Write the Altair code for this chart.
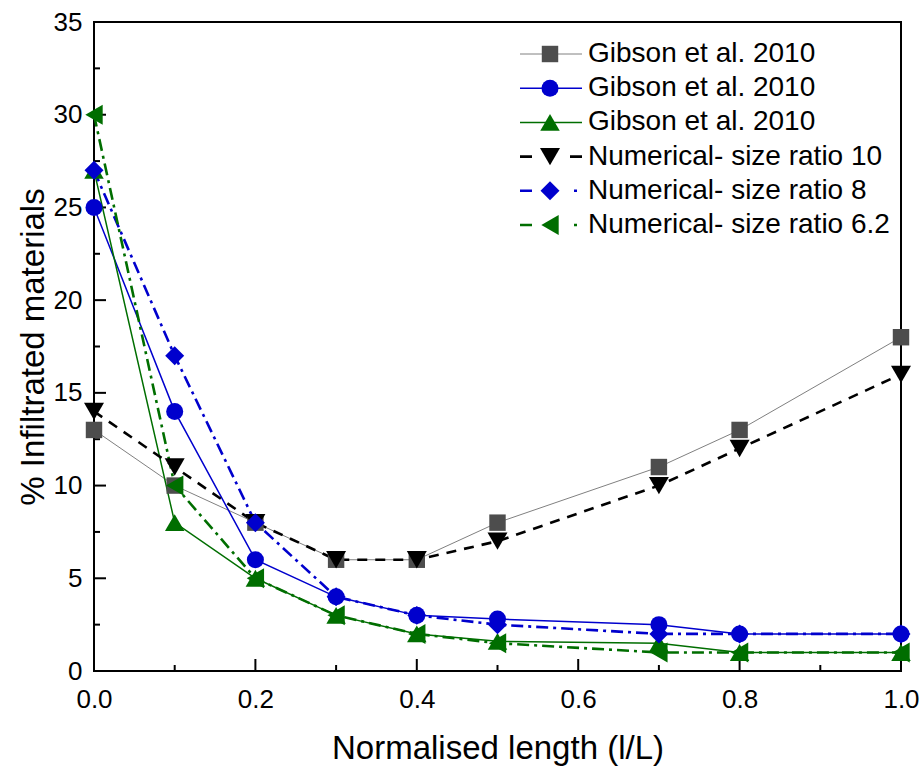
import altair as alt
import pandas as pd

# Sample positions along the normalised length
x_vals = [0.0, 0.1, 0.2, 0.3, 0.4, 0.5, 0.7, 0.8, 1.0]

# % infiltrated material per series
gibson_sq = [13, 10, 8, 6, 6, 8, 11, 13, 18]
gibson_circ = [25, 14, 6, 4, 3, 2.8, 2.5, 2, 2]
gibson_tri = [27, 8, 5, 3, 2, 1.6, 1.5, 1, 1]
num_ratio_10 = [14, 11, 8, 6, 6, 7, 10, 12, 16]
num_ratio_8 = [27, 17, 8, 4, 3, 2.5, 2, 2, 2]
num_ratio_62 = [30, 10, 5, 3, 2, 1.5, 1, 1, 1]

series_keys = ["g_sq", "g_circ", "g_tri", "n10", "n8", "n62"]
series_labels = [
    "Gibson et al. 2010",
    "Gibson et al. 2010",
    "Gibson et al. 2010",
    "Numerical- size ratio 10",
    "Numerical- size ratio 8",
    "Numerical- size ratio 6.2",
]
series_values = [gibson_sq, gibson_circ, gibson_tri, num_ratio_10, num_ratio_8, num_ratio_62]

# Styles
line_colors = ["#808080", "#0000cd", "#006e00", "#000000", "#0000cd", "#006e00"]
marker_colors = ["#4d4d4d", "#0000cd", "#006e00", "#000000", "#0000cd", "#006e00"]
shapes = ["square", "circle", "triangle-up", "triangle-down", "diamond", "triangle-left"]
marker_sizes = [270, 290, 380, 400, 360, 400]
line_widths = [1, 1.5, 1.5, 2.6, 2.6, 2.6]
dashes = [None, None, None, [10, 8], [12, 5, 3, 5], [12, 5, 3, 5]]
legend_dashes = [None, None, None, [12, 38, 12], [12, 42, 3, 20], [12, 42, 3, 20]]

# Axis ticks
x_major = [0.0, 0.2, 0.4, 0.6, 0.8, 1.0]
x_minor = [0.1, 0.3, 0.5, 0.7, 0.9]
y_major = [0, 5, 10, 15, 20, 25, 30, 35]
y_minor = [2.5, 7.5, 12.5, 17.5, 22.5, 27.5, 32.5]

W, H = 807, 649
FONT = "Liberation Sans"

rows = []
for key, vals in zip(series_keys, series_values):
    for xv, yv in zip(x_vals, vals):
        rows.append({"series": key, "x": xv, "y": yv})
df = pd.DataFrame(rows)

x_scale = alt.Scale(domain=[0, 1], nice=False, zero=False)
y_scale = alt.Scale(domain=[0, 35], nice=False)

x_axis = alt.Axis(
    values=x_major, format=".1f", title="Normalised length (l/L)",
    ticks=False, domain=False, grid=False, labelFlush=False,
    labelFontSize=26, labelColor="black", labelPadding=15, labelFont=FONT,
    titleFontSize=33, titleFont=FONT, titleFontWeight="normal", titleColor="black",
    titleY=87, titleBaseline="alphabetic",
)
y_axis = alt.Axis(
    values=y_major, title="% Infiltrated materials",
    ticks=False, domain=False, grid=False, labelFlush=False,
    labelFontSize=26, labelColor="black", labelPadding=12, labelFont=FONT,
    titleFontSize=33, titleFont=FONT, titleFontWeight="normal", titleColor="black",
    titleX=-61, titleY=H / 2, titleBaseline="middle",
)


def xenc(field):
    return alt.X(field, type="quantitative", scale=x_scale, axis=x_axis)


def yenc(field):
    return alt.Y(field, type="quantitative", scale=y_scale, axis=y_axis)


# Inward tick marks
def x_ticks(values, length):
    return alt.Chart(pd.DataFrame({"x": values})).mark_rule(color="black", strokeWidth=2).encode(
        x=xenc("x"), y=alt.value(H), y2=alt.value(H - length),
    )


def y_ticks(values, length):
    return alt.Chart(pd.DataFrame({"y": values})).mark_rule(color="black", strokeWidth=2).encode(
        y=yenc("y"), x=alt.value(0), x2=alt.value(length),
    )


tick_layers = [x_ticks(x_major, 12), x_ticks(x_minor, 6), y_ticks(y_major, 12), y_ticks(y_minor, 6)]

# One line layer and one marker layer per series
line_layers, point_layers = [], []
for i, key in enumerate(series_keys):
    base = alt.Chart(df).transform_filter(alt.datum.series == key)
    line_kw = dict(color=line_colors[i], strokeWidth=line_widths[i])
    if dashes[i]:
        line_kw["strokeDash"] = dashes[i]
    line_layers.append(base.mark_line(**line_kw).encode(x=xenc("x"), y=yenc("y")))
    point_layers.append(
        base.mark_point(
            filled=True, opacity=1, strokeWidth=0, shape=shapes[i],
            size=marker_sizes[i], fill=marker_colors[i],
        ).encode(x=xenc("x"), y=yenc("y"))
    )

# Legend (line + marker sample with label)
LEG_X0, LEG_X1, LEG_MARK, LEG_TEXT = 426, 488, 456, 494
LEG_TOP, LEG_STEP = 32, 34.2
legend_layers = []
for i, key in enumerate(series_keys):
    ry = LEG_TOP + i * LEG_STEP
    one = pd.DataFrame({"label": [series_labels[i]]})
    rule_kw = dict(color=line_colors[i], strokeWidth=line_widths[i])
    if legend_dashes[i]:
        rule_kw["strokeDash"] = legend_dashes[i]
    legend_layers.append(
        alt.Chart(one).mark_rule(**rule_kw).encode(
            x=alt.value(LEG_X0), x2=alt.value(LEG_X1), y=alt.value(ry)
        )
    )
    legend_layers.append(
        alt.Chart(one).mark_point(
            filled=True, opacity=1, strokeWidth=0, shape=shapes[i],
            size=marker_sizes[i], fill=marker_colors[i],
        ).encode(x=alt.value(LEG_MARK), y=alt.value(ry))
    )
    legend_layers.append(
        alt.Chart(one).mark_text(
            align="left", baseline="middle", fontSize=28, font=FONT, color="black"
        ).encode(x=alt.value(LEG_TEXT), y=alt.value(ry), text="label:N")
    )

chart = alt.layer(*tick_layers, *line_layers, *point_layers, *legend_layers).properties(
    width=W,
    height=H,
    autosize=alt.AutoSizeParams(type="none"),
    padding={"left": 94, "top": 22, "right": 20, "bottom": 98},
    background="white",
).configure(
    font=FONT
).configure_view(
    stroke="black", strokeWidth=2
)

chart.save("out.html", embed_options={"renderer": "svg", "actions": False})
